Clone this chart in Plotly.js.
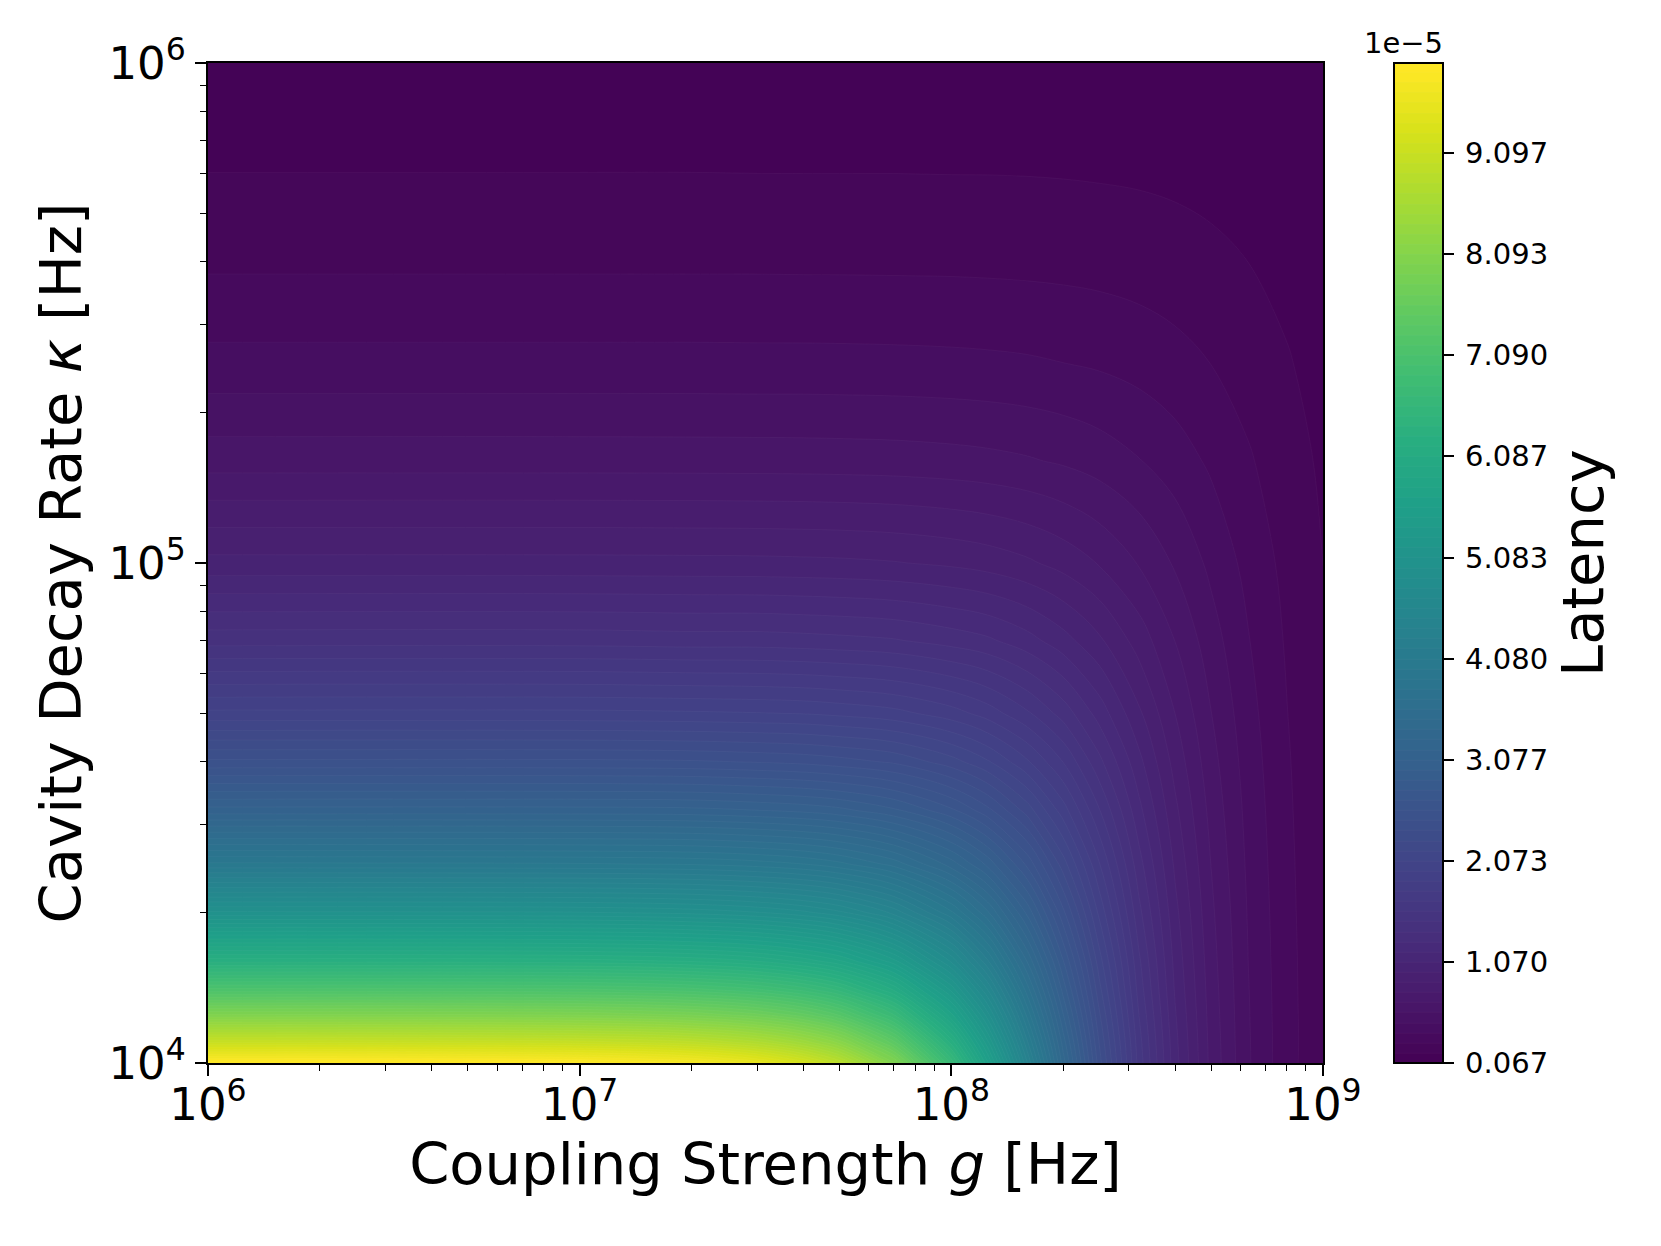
<!DOCTYPE html>
<html>
<head>
<meta charset="utf-8">
<script src="https://cdn.plot.ly/plotly-3.0.1.min.js"></script>
<style>html,body{margin:0;padding:0;background:#fff}#chart{width:1661px;height:1246px}</style>
</head>
<body>
<div id="chart"></div>
<script>
// Coupling strength g [Hz]
const couplingG = [1e6,1e7,2e7,3e7,4e7,5e7,7e7,1e8,1.25e8,1.6e8,2e8,2.5e8,3.2e8,4e8,5e8,6.3e8,8e8,1e9];
// Cavity decay rate kappa [Hz]
const decayKappa = [1e4,1.1e4,1.25e4,1.4e4,1.6e4,2e4,2.5e4,3.2e4,4e4,5e4,7e4,1e5,1.6e5,2.5e5,4e5,6.3e5,1e6];
// Latency, in units of 1e-5, one row per kappa
const row01 = [9.99,9.95,9.80,9.57,9.26,8.89,8.03,6.67,5.62,4.39,3.33,2.42,1.63,1.11,0.74,0.48,0.30,0.196];
const row02 = [9.09,9.05,8.93,8.73,8.47,8.16,7.43,6.25,5.32,4.20,3.23,2.37,1.61,1.10,0.735,0.478,0.302,0.196];
const row03 = [8.00,7.97,7.87,7.72,7.52,7.27,6.69,5.71,4.93,3.95,3.08,2.29,1.57,1.08,0.727,0.475,0.301,0.195];
const row04 = [7.14,7.12,7.04,6.92,6.76,6.56,6.08,5.26,4.59,3.73,2.94,2.21,1.53,1.06,0.719,0.472,0.299,0.195];
const row05 = [6.25,6.23,6.17,6.08,5.95,5.80,5.42,4.76,4.20,3.47,2.78,2.12,1.49,1.04,0.709,0.467,0.298,0.194];
const row06 = [5.00,4.99,4.95,4.89,4.81,4.71,4.45,4.00,3.60,3.05,2.50,1.95,1.40,1.00,0.690,0.459,0.294,0.192];
const row07 = [4.00,3.99,3.97,3.93,3.88,3.81,3.64,3.33,3.05,2.65,2.22,1.78,1.31,0.952,0.667,0.448,0.290,0.190];
const row08 = [3.12,3.12,3.11,3.08,3.05,3.01,2.90,2.70,2.51,2.23,1.92,1.58,1.20,0.893,0.637,0.435,0.284,0.188];
const row09 = [2.50,2.50,2.49,2.47,2.45,2.42,2.36,2.22,2.09,1.89,1.67,1.40,1.10,0.833,0.606,0.420,0.278,0.185];
const row10 = [2.00,2.00,1.99,1.98,1.97,1.95,1.91,1.82,1.73,1.59,1.43,1.23,0.988,0.769,0.571,0.403,0.270,0.182];
const row11 = [1.43,1.43,1.42,1.42,1.41,1.40,1.38,1.33,1.29,1.21,1.11,0.988,0.825,0.667,0.513,0.373,0.256,0.175];
const row12 = [1.00,1.00,0.998,0.996,0.992,0.988,0.976,0.952,0.928,0.887,0.833,0.762,0.661,0.556,0.444,0.336,0.238,0.167];
const row13 = [0.625,0.625,0.624,0.623,0.622,0.620,0.616,0.606,0.596,0.579,0.556,0.523,0.473,0.417,0.351,0.279,0.208,0.152];
const row14 = [0.400,0.400,0.400,0.399,0.399,0.398,0.396,0.392,0.388,0.381,0.370,0.356,0.332,0.303,0.267,0.223,0.175,0.133];
const row15 = [0.250,0.250,0.250,0.250,0.249,0.249,0.248,0.247,0.245,0.242,0.238,0.232,0.222,0.208,0.190,0.167,0.139,0.111];
const row16 = [0.159,0.159,0.159,0.158,0.158,0.158,0.158,0.157,0.157,0.156,0.154,0.151,0.147,0.141,0.132,0.121,0.105,0.0885];
const row17 = [0.100,0.100,0.100,0.100,0.100,0.100,0.0998,0.0995,0.0992,0.0987,0.0980,0.0970,0.0951,0.0926,0.0889,0.0835,0.0758,0.0667];
const latency = [row01,row02,row03,row04,row05,row06,row07,row08,row09,row10,row11,row12,row13,row14,row15,row16,row17];
const cbTicks = [0.067,1.070,2.073,3.077,4.080,5.083,6.087,7.090,8.093,9.097];
const cbLabels = ['0.067','1.070','2.073','3.077','4.080','5.083','6.087','7.090','8.093','9.097'];
const xTitle = 'Coupling Strength <i>g</i> [Hz]';
const yTitle = 'Cavity Decay Rate <i>κ</i> [Hz]';
const cbarTitle = 'Latency';
const cbarExponent = '1e−5';

const FONT = '"DejaVu Sans", sans-serif';
const W = 1661, H = 1246;
const L = 207.5, R = 1323, T = 63.3, B = 1063;

const axisCommon = {
  type: 'log', dtick: 1, exponentformat: 'power', showexponent: 'all',
  showgrid: false, zeroline: false, showline: true, mirror: true,
  linecolor: '#000', linewidth: 2,
  ticks: 'outside', ticklen: 11, tickwidth: 2, tickcolor: '#000',
  tickfont: {family: FONT, size: 36, color: '#000'},
  minor: {ticks: 'outside', ticklen: 6, tickwidth: 1.2, tickcolor: '#000', dtick: 'D1', showgrid: false}
};

const trace = {
  type: 'contour', x: couplingG, y: decayKappa, z: latency,
  colorscale: 'Viridis', zauto: false, zmin: 0.067, zmax: 9.99,
  autocontour: false,
  contours: {coloring: 'fill', start: 0.067, end: 9.99, size: 0.10033, showlines: true},
  line: {width: 0.5, color: 'rgba(255,255,255,0.07)'},
  hoverinfo: 'skip',
  colorbar: {
    xref: 'paper', yref: 'paper',
    x: (1394 - L) / (R - L), xanchor: 'left', xpad: 0,
    y: 0, yanchor: 'bottom', ypad: 0,
    lenmode: 'fraction', len: 1, thicknessmode: 'pixels', thickness: 49,
    outlinewidth: 2, outlinecolor: '#000', borderwidth: 0,
    tickmode: 'array', tickvals: cbTicks, ticktext: cbLabels.map(s => '\u2009' + s),
    ticks: 'outside', ticklen: 10, tickwidth: 2, tickcolor: '#000',
    tickfont: {family: FONT, size: 29, color: '#000'}
  }
};

const layout = {
  width: W, height: H, paper_bgcolor: '#fff', plot_bgcolor: '#fff',
  margin: {l: L, r: W - R, t: T, b: H - B, pad: 0},
  font: {family: FONT, color: '#000'},
  showlegend: false,
  xaxis: Object.assign({}, axisCommon, {
    range: [6, 9], ticklabelstandoff: -8,
    title: {text: xTitle, font: {family: FONT, size: 57.6, color: '#000'}, standoff: 1}
  }),
  yaxis: Object.assign({}, axisCommon, {
    range: [4, 6], ticklabelstandoff: 2,
    title: {text: yTitle, font: {family: FONT, size: 57.6, color: '#000'}, standoff: 8}
  }),
  annotations: [
    {xref: 'paper', yref: 'paper', x: (1404 - L) / (R - L), y: 1.001, yanchor: 'bottom', xanchor: 'center',
     text: cbarExponent, showarrow: false, font: {family: FONT, size: 29, color: '#000'}},
    {xref: 'paper', yref: 'paper', x: (1583 - L) / (R - L), y: 0.5, xanchor: 'center', yanchor: 'middle',
     text: cbarTitle, textangle: -90, showarrow: false, font: {family: FONT, size: 57.6, color: '#000'}}
  ]
};

Plotly.newPlot('chart', [trace], layout, {displayModeBar: false, responsive: false});
</script>
</body>
</html>
